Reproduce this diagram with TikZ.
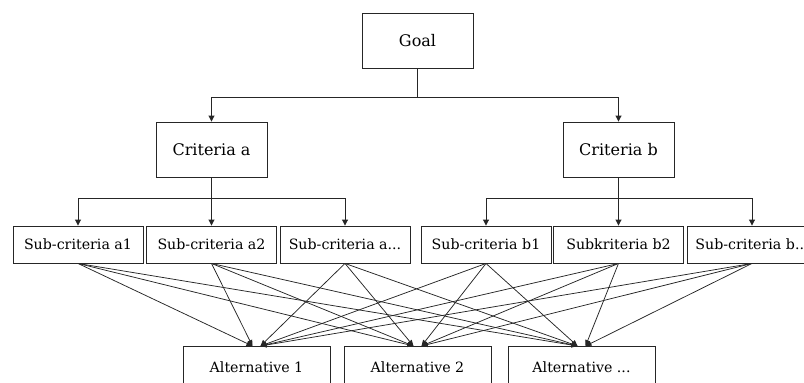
\documentclass[tikz,border=0pt]{standalone}
\usepackage{fontspec}
\setmainfont{DejaVu Serif}
\usetikzlibrary{arrows.meta}
\begin{document}
\begin{tikzpicture}[x=1pt,y=-1pt,
  box/.style={draw=black!85,line width=0.9pt,fill=white,inner sep=0pt,font=\fontsize{14.2}{16}\selectfont},
  big/.style={box,minimum width=111pt,minimum height=55pt,font=\fontsize{16}{18}\selectfont},
  sub/.style={box,minimum width=130pt,minimum height=37pt},
  alt/.style={box,minimum width=147pt,minimum height=56pt,anchor=north,text height=10pt,text depth=14pt},
  conn/.style={draw=black!85,line width=0.9pt,-{Triangle[length=6pt,width=6pt]}},
  edge/.style={draw=black!85,line width=0.75pt,-{Triangle[length=6pt,width=5pt]}}]
\useasboundingbox (0,0) rectangle (804,383);
\clip (0,0) rectangle (804,383);
\node[big] (goal) at (417.5,41) {Goal};
\node[big] (ca) at (211.5,149.5) {Criteria a};
\node[big] (cb) at (618.5,149.5) {Criteria b};
\node[sub] (a1) at (78,244.5) {Sub-criteria a1};
\node[sub] (a2) at (211.5,244.5) {Sub-criteria a2};
\node[sub] (a3) at (345,244.5) {Sub-criteria a...};
\node[sub] (b1) at (486,244.5) {Sub-criteria b1};
\node[sub] (b2) at (618.5,244.5) {Subkriteria b2};
\node[sub] (b3) at (752,244.5) {Sub-criteria b...};
\node[alt] (x1) at (256.5,346) {Alternative 1};
\node[alt] (x2) at (417.5,346) {Alternative 2};
\node[alt] (x3) at (581.5,346) {Alternative ...};
\coordinate (bus0) at (417.5,97);
\coordinate (busa) at (211.5,198);
\coordinate (busb) at (618.5,198);
\draw[conn] (goal.south) -- (bus0) -| (ca.north);
\draw[conn] (bus0) -| (cb.north);
\draw[conn] (ca.south) -- (busa) -| (a1.north);
\draw[conn] (busa) -- (a2.north);
\draw[conn] (busa) -| (a3.north);
\draw[conn] (cb.south) -- (busb) -| (b1.north);
\draw[conn] (busb) -- (b2.north);
\draw[conn] (busb) -| (b3.north);
% edges to alternatives
\foreach \s in {a1,a2}{\draw[edge] (\s.south) -- ([xshift=-4pt]x1.north);}
\foreach \s in {a3,b1,b2,b3}{\draw[edge] (\s.south) -- ([xshift=4pt]x1.north);}
\foreach \s in {a1,a2,a3}{\draw[edge] (\s.south) -- ([xshift=-4pt]x2.north);}
\foreach \s in {b1,b2,b3}{\draw[edge] (\s.south) -- ([xshift=4pt]x2.north);}
\foreach \s in {a1,a2,a3,b1}{\draw[edge] (\s.south) -- ([xshift=-4pt]x3.north);}
\foreach \s in {b2,b3}{\draw[edge] (\s.south) -- ([xshift=4pt]x3.north);}
\end{tikzpicture}
\end{document}
